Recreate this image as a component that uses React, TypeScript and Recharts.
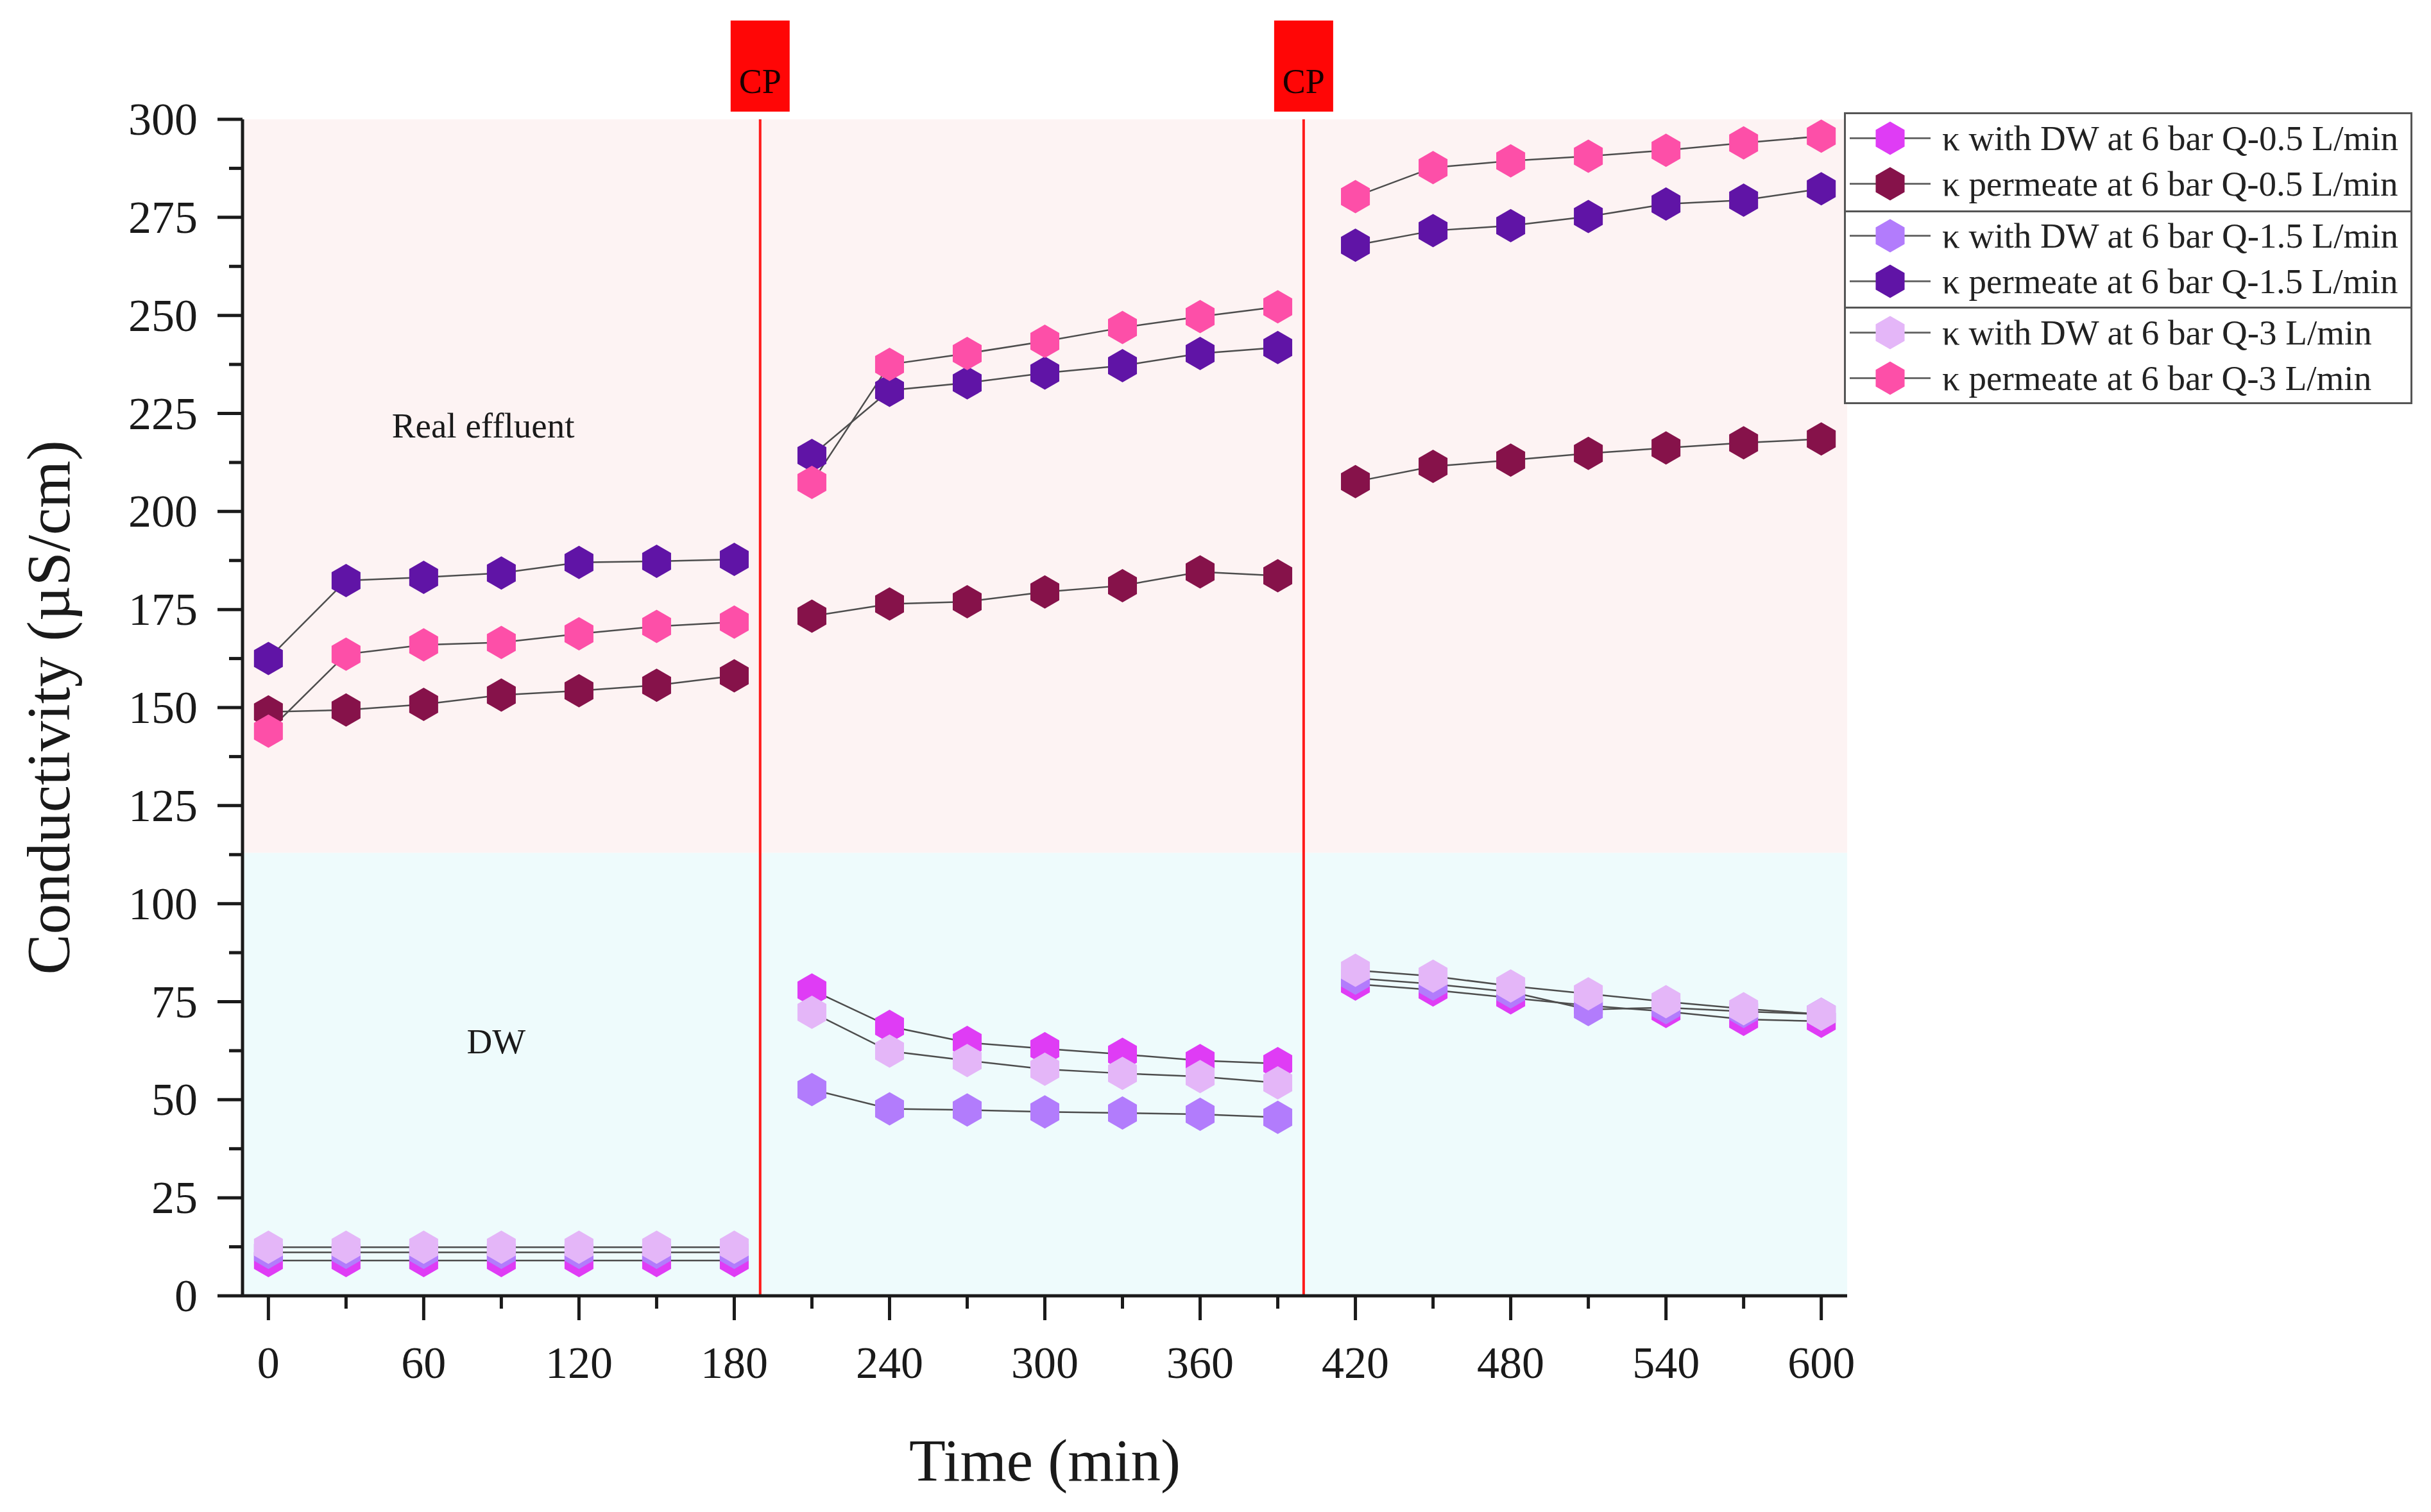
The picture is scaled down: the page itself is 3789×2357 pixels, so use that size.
import React from 'react';
import { LineChart, Line, XAxis, YAxis, ReferenceArea, ReferenceLine, ReferenceDot, Label } from 'recharts';

// time axis (min) and the two CP events where no reading was taken
const timeMin = [0, 30, 60, 90, 120, 150, 180, 210, 240, 270, 300, 330, 360, 390, 420, 450, 480, 510, 540, 570, 600];
const cpTimes = [190, 400];

// conductivity readings (µS/cm)
const dwQ05 = [9.0, 9.0, 9.0, 9.0, 9.0, 9.0, 9.0, 78.0, 68.7, 64.6, 63.0, 61.6, 60.0, 59.2, 79.5, 78.0, 76.0, 74.0, 72.5, 70.5, 70.0];
const permQ05 = [148.9, 149.4, 150.8, 153.2, 154.3, 155.7, 158.1, 173.3, 176.4, 177.0, 179.5, 181.1, 184.6, 183.6, 207.6, 211.5, 213.1, 214.8, 216.2, 217.5, 218.5];
const dwQ15 = [11.1, 11.1, 11.1, 11.1, 11.1, 11.1, 11.1, 52.6, 47.7, 47.4, 46.9, 46.6, 46.3, 45.5, 81.0, 79.5, 77.5, 73.0, 73.5, 72.5, 71.8];
const permQ15 = [162.5, 182.4, 183.2, 184.3, 187.0, 187.3, 187.8, 214.3, 230.9, 232.8, 235.3, 237.2, 240.3, 241.8, 267.9, 271.6, 272.9, 275.2, 278.4, 279.4, 282.3];
const dwQ3 = [12.4, 12.4, 12.4, 12.4, 12.4, 12.4, 12.4, 72.3, 62.4, 60.0, 57.8, 56.7, 55.9, 54.3, 83.0, 81.5, 79.0, 77.0, 75.0, 73.2, 71.8];
const permQ3 = [144.0, 163.6, 166.0, 166.6, 168.8, 170.7, 171.8, 207.4, 237.5, 240.3, 243.4, 246.9, 249.7, 252.2, 280.3, 287.7, 289.4, 290.6, 292.1, 294.0, 295.7];

const seriesList = [
  { key: 'dwQ05', name: 'κ with DW at 6 bar Q-0.5 L/min', color: '#df3cf5', values: dwQ05 },
  { key: 'permQ05', name: 'κ permeate at 6 bar Q-0.5 L/min', color: '#86124a', values: permQ05 },
  { key: 'dwQ15', name: 'κ with DW at 6 bar Q-1.5 L/min', color: '#b27cfc', values: dwQ15 },
  { key: 'permQ15', name: 'κ permeate at 6 bar Q-1.5 L/min', color: '#6014a6', values: permQ15 },
  { key: 'dwQ3', name: 'κ with DW at 6 bar Q-3 L/min', color: '#e4b6f8', values: dwQ3 },
  { key: 'permQ3', name: 'κ permeate at 6 bar Q-3 L/min', color: '#fd4fa8', values: permQ3 },
];

// feed regions and in-plot annotations
const feedSplit = 113;
const annotations = [
  { text: 'Real effluent', t: 83, k: 222 },
  { text: 'DW', t: 88, k: 65 },
];

const xTicks = Array.from({ length: 21 }, (_, i) => i * 30);
const yTicks = Array.from({ length: 25 }, (_, i) => i * 12.5);

const SERIF = '"Liberation Serif", "Times New Roman", serif';
const INK = '#1a1a1a';

const rows: any[] = [];
timeMin.forEach((t, i) => {
  cpTimes.forEach((cp) => {
    if (i > 0 && timeMin[i - 1] < cp && t > cp) rows.push({ t: cp });
  });
  const row: any = { t };
  seriesList.forEach((s) => (row[s.key] = s.values[i]));
  rows.push(row);
});

const hexPoints = (r: number) =>
  [0, 1, 2, 3, 4, 5]
    .map((i) => {
      const a = (Math.PI / 180) * (60 * i - 90);
      return `${(r * Math.cos(a)).toFixed(2)},${(r * Math.sin(a)).toFixed(2)}`;
    })
    .join(' ');
const HEX = hexPoints(26);

const makeDot = (color: string) => (props: any) => {
  const { cx, cy, value, index } = props;
  if (value == null || cx == null || cy == null) return <g key={`e-${index}`} />;
  return <polygon key={`d-${index}`} points={HEX} transform={`translate(${cx},${cy})`} fill={color} />;
};

const YTick = (props: any) => {
  const { x, y, payload } = props;
  const major = payload.value % 25 === 0;
  return (
    <g>
      <line x1={x} y1={y} x2={x - (major ? 39 : 21)} y2={y} stroke={INK} strokeWidth={5} />
      {major && (
        <text x={x - 70} y={y + 24} textAnchor="end" fontSize={72} fontFamily={SERIF} fill={INK}>
          {payload.value}
        </text>
      )}
    </g>
  );
};

const XTick = (props: any) => {
  const { x, y, payload } = props;
  const major = payload.value % 60 === 0;
  return (
    <g>
      <line x1={x} y1={y} x2={x} y2={y + (major ? 38 : 20)} stroke={INK} strokeWidth={5} />
      {major && (
        <text x={x} y={y + 128} textAnchor="middle" fontSize={70} fontFamily={SERIF} fill={INK}>
          {payload.value}
        </text>
      )}
    </g>
  );
};

const CpTag = (props: any) => {
  const { viewBox } = props;
  if (!viewBox) return null;
  const x = viewBox.x;
  const top = viewBox.y;
  return (
    <g>
      <rect x={x - 46} y={top - 154} width={92} height={142} fill="#ff0606" />
      <text x={x} y={top - 41} textAnchor="middle" fontSize={54} fontFamily={SERIF} fill="#1a0000">
        CP
      </text>
    </g>
  );
};

const legendGroups = [seriesList.slice(0, 2), seriesList.slice(2, 4), seriesList.slice(4, 6)];

function LegendBox() {
  return (
    <div
      style={{
        position: 'absolute',
        left: 2866,
        top: 167,
        width: 886,
        height: 455,
        border: '3px solid #555',
        boxSizing: 'border-box',
        background: '#fff',
      }}
    >
      {legendGroups.map((g, gi) => (
        <div
          key={gi}
          style={{
            height: gi === 0 ? 149.7 : 150.6,
            borderTop: gi ? '3px solid #555' : 'none',
            boxSizing: 'border-box',
            paddingTop: 1.5,
          }}
        >
          {g.map((s) => (
            <div key={s.key} style={{ height: 71, display: 'flex', alignItems: 'center' }}>
              <svg width={140} height={71} style={{ flex: 'none' }}>
                <line x1={6} x2={132} y1={35.5} y2={35.5} stroke="#6b6b6b" strokeWidth={3} />
                <polygon points={HEX} transform="translate(69,35.5)" fill={s.color} />
              </svg>
              <span
                style={{
                  marginLeft: 10,
                  fontSize: 55,
                  fontFamily: SERIF,
                  color: '#222',
                  whiteSpace: 'nowrap',
                  lineHeight: 1,
                }}
              >
                {s.name}
              </span>
            </div>
          ))}
        </div>
      ))}
    </div>
  );
}

export default function App() {
  return (
    <div style={{ position: 'relative', width: 3773, height: 2341, background: '#fff', fontFamily: SERIF }}>
      <LineChart width={3773} height={2341} data={rows} margin={{ top: 178, right: 902, bottom: 0, left: 0 }}>
        <ReferenceArea y1={0} y2={feedSplit} fill="#eefbfc" fillOpacity={1} stroke="none" />
        <ReferenceArea y1={feedSplit} y2={300} fill="#fdf3f3" fillOpacity={1} stroke="none" />
        <XAxis
          dataKey="t"
          type="number"
          domain={[-10, 610]}
          ticks={xTicks}
          interval={0}
          tickSize={0}
          tickMargin={0}
          tickLine={false}
          tick={<XTick />}
          axisLine={{ stroke: INK, strokeWidth: 5 }}
          height={329}
          allowDataOverflow
        >
          <Label
            content={(p: any) => (
              <text
                x={p.viewBox.x + p.viewBox.width / 2}
                y={p.viewBox.y + 288}
                textAnchor="middle"
                fontSize={93}
                fontFamily={SERIF}
                fill={INK}
              >
                Time (min)
              </text>
            )}
          />
        </XAxis>
        <YAxis
          type="number"
          domain={[0, 300]}
          ticks={yTicks}
          interval={0}
          tickSize={0}
          tickMargin={0}
          tickLine={false}
          tick={<YTick />}
          axisLine={{ stroke: INK, strokeWidth: 5 }}
          width={370}
          allowDataOverflow
        >
          <Label
            content={(p: any) => {
              const cx = p.viewBox.x + 100;
              const cy = p.viewBox.y + p.viewBox.height / 2;
              return (
                <text
                  x={cx}
                  y={cy}
                  transform={`rotate(-90, ${cx}, ${cy})`}
                  textAnchor="middle"
                  fontSize={95}
                  fontFamily={SERIF}
                  fill={INK}
                >
                  Conductivity (µS/cm)
                </text>
              );
            }}
          />
        </YAxis>
        {cpTimes.map((cp) => (
          <ReferenceLine key={cp} x={cp} stroke="#ff1a1a" strokeWidth={4} label={<CpTag />} />
        ))}
        {annotations.map((a) => (
          <ReferenceDot
            key={a.text}
            x={a.t}
            y={a.k}
            r={0}
            fill="none"
            stroke="none"
            label={{ value: a.text, position: 'center', fill: INK, fontSize: 55, fontFamily: SERIF }}
          />
        ))}
        {seriesList.map((s) => (
          <Line
            key={s.key}
            dataKey={s.key}
            name={s.name}
            type="linear"
            stroke="#4d4d4d"
            strokeWidth={2.5}
            dot={makeDot(s.color)}
            activeDot={false}
            isAnimationActive={false}
          />
        ))}
      </LineChart>
      <LegendBox />
    </div>
  );
}
